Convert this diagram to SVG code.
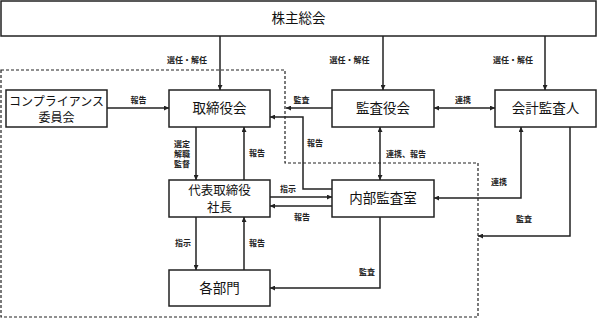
<svg xmlns="http://www.w3.org/2000/svg" width="597" height="319" viewBox="0 0 597 319">
<defs>
<marker id="ah" viewBox="0 0 8 8" refX="8" refY="4" markerWidth="5" markerHeight="5" orient="auto-start-reverse" markerUnits="userSpaceOnUse">
<path d="M0,0 L8,4 L0,8 Z" fill="#222"/>
</marker>
<style>
.box{fill:#fff;stroke:#222;stroke-width:1.5}
.big{font-family:"Noto Sans CJK JP","Noto Sans",sans-serif;font-size:13.5px;fill:#111;text-anchor:middle}
.two{font-family:"Noto Sans CJK JP","Noto Sans",sans-serif;font-size:12.5px;fill:#111;text-anchor:middle}
.mid{font-family:"Noto Sans CJK JP","Noto Sans",sans-serif;font-size:12px;fill:#111;text-anchor:middle}
.lbl{font-family:"Noto Sans CJK JP","Noto Sans",sans-serif;font-size:8px;font-weight:bold;fill:#222;text-anchor:middle}
.ln{fill:none;stroke:#222;stroke-width:1.5}
.dash{fill:none;stroke:#222;stroke-width:1.2;stroke-dasharray:3,2}
</style>
</defs>
<rect width="597" height="319" fill="#fff"/>
<polygon class="dash" points="1,70 285,70 285,163 478,163 478,317 1,317"/>
<g id="connectors">
<line class="ln" x1="220" y1="36" x2="220" y2="90" marker-end="url(#ah)"/>
<line class="ln" x1="383" y1="36" x2="383" y2="90" marker-end="url(#ah)"/>
<line class="ln" x1="545" y1="36" x2="545" y2="90" marker-end="url(#ah)"/>
<line class="ln" x1="107" y1="108" x2="169" y2="108" marker-end="url(#ah)"/>
<line class="ln" x1="332" y1="108" x2="286" y2="108" marker-end="url(#ah)"/>
<line class="ln" x1="434" y1="108" x2="495" y2="108" marker-start="url(#ah)" marker-end="url(#ah)"/>
<polyline class="ln" points="332,189 303,189 303,117 270,117" marker-end="url(#ah)"/>
<line class="ln" x1="380" y1="127" x2="380" y2="180" marker-start="url(#ah)" marker-end="url(#ah)"/>
<polyline class="ln" points="521,127 521,198 434,198" marker-start="url(#ah)" marker-end="url(#ah)"/>
<polyline class="ln" points="570,127 570,236 478,236" marker-end="url(#ah)"/>
<line class="ln" x1="196" y1="127" x2="196" y2="180" marker-end="url(#ah)"/>
<line class="ln" x1="244" y1="180" x2="244" y2="127" marker-end="url(#ah)"/>
<line class="ln" x1="270" y1="197" x2="332" y2="197" marker-end="url(#ah)"/>
<line class="ln" x1="332" y1="206" x2="270" y2="206" marker-end="url(#ah)"/>
<line class="ln" x1="196" y1="217" x2="196" y2="270" marker-end="url(#ah)"/>
<line class="ln" x1="244" y1="270" x2="244" y2="217" marker-end="url(#ah)"/>
<polyline class="ln" points="380,217 380,288 270,288" marker-end="url(#ah)"/>
<text class="lbl" x="187" y="63">選任・解任</text>
<text class="lbl" x="349.5" y="63">選任・解任</text>
<text class="lbl" x="513" y="63">選任・解任</text>
<text class="lbl" x="138.5" y="103">報告</text>
<text class="lbl" x="301.5" y="103">監査</text>
<text class="lbl" x="463" y="103">連携</text>
<text class="lbl" x="315" y="146">報告</text>
<text class="lbl" x="406" y="157">連携、報告</text>
<text class="lbl" x="182" y="147">選定</text>
<text class="lbl" x="182" y="157">解職</text>
<text class="lbl" x="182" y="167">監督</text>
<text class="lbl" x="257" y="156">報告</text>
<text class="lbl" x="288" y="192">指示</text>
<text class="lbl" x="302" y="220">報告</text>
<text class="lbl" x="499" y="185">連携</text>
<text class="lbl" x="524" y="222">監査</text>
<text class="lbl" x="183" y="246">指示</text>
<text class="lbl" x="257" y="246">報告</text>
<text class="lbl" x="367" y="275">監査</text>
</g>
<g id="kabunushi"><rect class="box" x="1" y="1" width="595" height="35"/><text class="big" x="298.5" y="23">株主総会</text></g>
<g id="compliance"><rect class="box" x="6" y="90" width="101" height="37"/><text class="mid"><tspan x="56.5" y="106">コンプライアンス</tspan><tspan x="56.5" y="122">委員会</tspan></text></g>
<g id="torishimariyakukai"><rect class="box" x="169" y="90" width="101" height="37"/><text class="big" x="219.5" y="113">取締役会</text></g>
<g id="kansayakukai"><rect class="box" x="332" y="90" width="102" height="37"/><text class="big" x="383" y="113">監査役会</text></g>
<g id="kaikeikansanin"><rect class="box" x="495" y="90" width="101" height="37"/><text class="big" x="545.5" y="113">会計監査人</text></g>
<g id="shacho"><rect class="box" x="169" y="180" width="101" height="37"/><text class="two"><tspan x="219.5" y="194.5">代表取締役</tspan><tspan x="219.5" y="212">社長</tspan></text></g>
<g id="naibukansa"><rect class="box" x="332" y="180" width="102" height="37"/><text class="big" x="383" y="203">内部監査室</text></g>
<g id="kakubumon"><rect class="box" x="169" y="270" width="101" height="36"/><text class="big" x="219.5" y="293">各部門</text></g>
</svg>
